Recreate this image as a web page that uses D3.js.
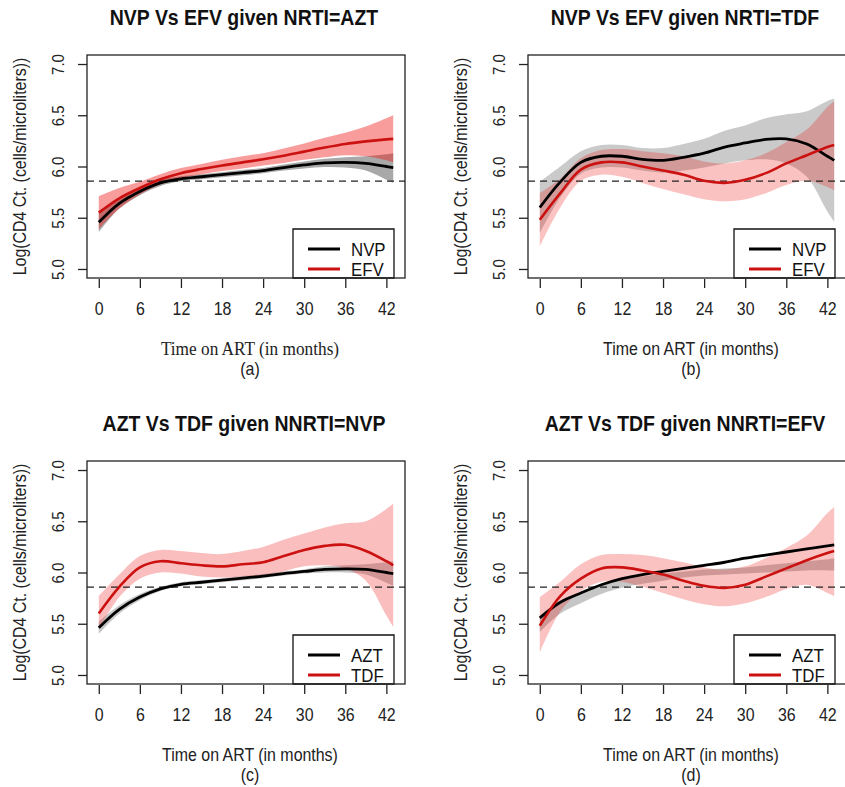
<!DOCTYPE html>
<html>
<head>
<meta charset="utf-8">
<script src="https://cdn.jsdelivr.net/npm/d3@7"></script>
<style>
  html, body { margin: 0; padding: 0; background: #fff; }
  svg { display: block; font-family: "Liberation Sans", Arial, sans-serif; }
</style>
</head>
<body>
<svg id="chart" width="845" height="787"></svg>
<script>
// ---------------- data ----------------
const months = [0, 3, 6, 9, 12, 15, 18, 21, 24, 27, 30, 33, 36, 39, 42, 43];
const xTicks = [0, 6, 12, 18, 24, 30, 36, 42];
const yTicks = [5.0, 5.5, 6.0, 6.5, 7.0];
const refLine = 5.858;

const titles = ["NVP Vs EFV given NRTI=AZT", "NVP Vs EFV given NRTI=TDF",
                "AZT Vs TDF given NNRTI=NVP", "AZT Vs TDF given NNRTI=EFV"];
const captions = ["(a)", "(b)", "(c)", "(d)"];
const legendLabels = [["NVP", "EFV"], ["NVP", "EFV"], ["AZT", "TDF"], ["AZT", "TDF"]];
const xLabel = "Time on ART (in months)";
const yLabel = "Log(CD4 Ct. (cells/microliters))";

// panel (a): NVP (black) vs EFV (red), NRTI = AZT
const aBlackMean  = [5.455, 5.64, 5.757, 5.84, 5.88, 5.90, 5.92, 5.94, 5.96, 5.99, 6.015, 6.035, 6.04, 6.03, 6.00, 5.99];
const aBlackLower = [5.36, 5.59, 5.72, 5.81, 5.855, 5.875, 5.895, 5.915, 5.935, 5.96, 5.98, 5.995, 5.99, 5.96, 5.87, 5.84];
const aBlackUpper = [5.55, 5.69, 5.79, 5.87, 5.905, 5.925, 5.945, 5.965, 5.985, 6.02, 6.05, 6.075, 6.09, 6.10, 6.12, 6.13];
const aRedMean    = [5.55, 5.69, 5.79, 5.875, 5.935, 5.975, 6.01, 6.04, 6.07, 6.105, 6.145, 6.185, 6.22, 6.245, 6.265, 6.27];
const aRedLower   = [5.39, 5.59, 5.73, 5.825, 5.885, 5.925, 5.955, 5.98, 6.01, 6.035, 6.065, 6.09, 6.11, 6.10, 6.06, 6.04];
const aRedUpper   = [5.71, 5.79, 5.85, 5.925, 5.985, 6.025, 6.065, 6.10, 6.13, 6.175, 6.225, 6.28, 6.33, 6.39, 6.47, 6.50];

// panel (b): NVP (black) vs EFV (red), NRTI = TDF
const bBlackMean  = [5.60, 5.85, 6.04, 6.10, 6.10, 6.07, 6.06, 6.09, 6.13, 6.19, 6.23, 6.265, 6.27, 6.22, 6.10, 6.06];
const bBlackLower = [5.35, 5.70, 5.93, 5.99, 5.99, 5.96, 5.94, 5.96, 5.99, 6.03, 6.06, 6.07, 6.03, 5.90, 5.56, 5.46];
const bBlackUpper = [5.85, 6.00, 6.15, 6.21, 6.21, 6.18, 6.18, 6.22, 6.27, 6.35, 6.40, 6.47, 6.51, 6.54, 6.64, 6.66];
const bRedMean    = [5.48, 5.74, 5.97, 6.04, 6.04, 6.00, 5.96, 5.92, 5.86, 5.84, 5.87, 5.935, 6.03, 6.11, 6.19, 6.21];
const bRedLower   = [5.22, 5.60, 5.86, 5.92, 5.90, 5.84, 5.78, 5.73, 5.68, 5.66, 5.68, 5.74, 5.82, 5.86, 5.80, 5.77];
const bRedUpper   = [5.74, 5.88, 6.08, 6.16, 6.17, 6.15, 6.13, 6.10, 6.05, 6.03, 6.06, 6.13, 6.24, 6.36, 6.58, 6.64];

// panel (c): AZT (black) vs TDF (red), NNRTI = NVP
const cBlackMean  = [5.46, 5.64, 5.76, 5.84, 5.885, 5.905, 5.925, 5.945, 5.965, 5.99, 6.01, 6.03, 6.035, 6.03, 6.00, 5.99];
const cBlackLower = [5.40, 5.60, 5.73, 5.82, 5.865, 5.885, 5.905, 5.925, 5.945, 5.97, 5.99, 6.00, 6.00, 5.98, 5.90, 5.87];
const cBlackUpper = [5.52, 5.68, 5.79, 5.86, 5.905, 5.925, 5.945, 5.965, 5.985, 6.01, 6.03, 6.06, 6.07, 6.08, 6.10, 6.11];
const cRedMean    = [5.60, 5.86, 6.05, 6.11, 6.09, 6.07, 6.06, 6.08, 6.10, 6.16, 6.22, 6.26, 6.27, 6.21, 6.11, 6.07];
const cRedLower   = [5.45, 5.76, 5.94, 6.00, 5.99, 5.96, 5.95, 5.96, 5.97, 6.01, 6.06, 6.07, 6.04, 5.92, 5.58, 5.47];
const cRedUpper   = [5.77, 5.98, 6.16, 6.22, 6.21, 6.19, 6.18, 6.21, 6.25, 6.32, 6.38, 6.44, 6.48, 6.50, 6.62, 6.67];

// panel (d): AZT (black) vs TDF (red), NNRTI = EFV
const dBlackMean  = [5.557, 5.71, 5.80, 5.88, 5.94, 5.98, 6.01, 6.04, 6.07, 6.10, 6.14, 6.17, 6.20, 6.23, 6.26, 6.27];
const dBlackLower = [5.42, 5.60, 5.70, 5.79, 5.85, 5.89, 5.92, 5.95, 5.97, 5.98, 5.99, 6.00, 6.01, 6.02, 6.02, 6.02];
const dBlackUpper = [5.56, 5.70, 5.80, 5.88, 5.93, 5.96, 5.99, 6.01, 6.03, 6.04, 6.05, 6.07, 6.09, 6.11, 6.13, 6.14];
const dRedMean    = [5.48, 5.77, 5.94, 6.04, 6.05, 6.02, 5.98, 5.92, 5.87, 5.85, 5.88, 5.96, 6.04, 6.12, 6.19, 6.21];
const dRedLower   = [5.22, 5.62, 5.82, 5.91, 5.91, 5.86, 5.80, 5.74, 5.69, 5.67, 5.70, 5.76, 5.84, 5.88, 5.80, 5.77];
const dRedUpper   = [5.76, 5.91, 6.08, 6.17, 6.18, 6.17, 6.14, 6.10, 6.05, 6.03, 6.06, 6.14, 6.24, 6.36, 6.58, 6.64];

// ---------------- layout ----------------
const panels = [
  { x0: 87,  y0: 55,  black: [aBlackMean, aBlackLower, aBlackUpper], red: [aRedMean, aRedLower, aRedUpper], greyFill: "rgba(110,110,110,0.6)", redFill: "rgba(240,20,20,0.42)", serifX: true },
  { x0: 528, y0: 55,  black: [bBlackMean, bBlackLower, bBlackUpper], red: [bRedMean, bRedLower, bRedUpper], greyFill: "rgba(128,128,128,0.42)", redFill: "rgba(240,20,20,0.26)", serifX: false },
  { x0: 87,  y0: 461, black: [cBlackMean, cBlackLower, cBlackUpper], red: [cRedMean, cRedLower, cRedUpper], greyFill: "rgba(128,128,128,0.45)", redFill: "rgba(240,20,20,0.28)", serifX: false },
  { x0: 528, y0: 461, black: [dBlackMean, dBlackLower, dBlackUpper], red: [dRedMean, dRedLower, dRedUpper], greyFill: "rgba(128,128,128,0.45)", redFill: "rgba(240,20,20,0.26)", serifX: false }
];
const W = 318, H = 223;
const redLine = "#cc1111";
const SX = 0.885;  // glyphs in the reference are narrower than Arial

const svg = d3.select("#chart");

function place(sel, x, y, rot) {
  sel.attr("x", null).attr("y", null)
    .attr("transform", `translate(${x},${y})${rot ? ` rotate(${rot})` : ""} scale(${SX},1)`);
  return sel;
}

panels.forEach((p, i) => {
  const g = svg.append("g");
  const x = d3.scaleLinear().domain([-1.72, 44.72]).range([p.x0, p.x0 + W]);
  const y = d3.scaleLinear().domain([4.912, 7.088]).range([p.y0 + H, p.y0]);
  const bottom = p.y0 + H;
  const curve = d3.curveCatmullRom.alpha(0.5);

  const band = (lo, hi) => d3.area()
    .x((d, k) => x(months[k]))
    .y0((d, k) => y(lo[k]))
    .y1((d, k) => y(hi[k]))
    .curve(curve)(months);
  const line = (m) => d3.line()
    .x((d, k) => x(months[k]))
    .y((d, k) => y(m[k]))
    .curve(curve)(months);

  // bands
  g.append("path").attr("d", band(p.black[1], p.black[2])).attr("fill", p.greyFill);
  g.append("path").attr("d", band(p.red[1], p.red[2])).attr("fill", p.redFill);

  // reference dashed line
  g.append("line")
    .attr("x1", p.x0).attr("x2", p.x0 + W)
    .attr("y1", y(refLine)).attr("y2", y(refLine))
    .attr("stroke", "#222").attr("stroke-width", 1.2)
    .attr("stroke-dasharray", "7,5");

  // mean lines
  g.append("path").attr("d", line(p.black[0])).attr("fill", "none")
    .attr("stroke", "#000").attr("stroke-width", 2.8);
  g.append("path").attr("d", line(p.red[0])).attr("fill", "none")
    .attr("stroke", redLine).attr("stroke-width", 2.6);

  // legend (bottom right, cut by the plot frame)
  const lx = p.x0 + 206, lr = p.x0 + 307, lt = bottom - 49;
  g.append("path")
    .attr("d", `M${lx},${bottom} L${lx},${lt} L${lr},${lt} L${lr},${bottom} Z`)
    .attr("fill", "#fff").attr("stroke", "#111").attr("stroke-width", 1.3);
  [["#000", bottom - 29], [redLine, bottom - 9]].forEach(([c, ly], k) => {
    g.append("line").attr("x1", p.x0 + 221).attr("x2", p.x0 + 253)
      .attr("y1", ly).attr("y2", ly).attr("stroke", c).attr("stroke-width", 3);
    place(g.append("text").attr("font-size", 19).attr("fill", "#111").text(legendLabels[i][k]),
      p.x0 + 264, ly + 7);
  });

  // frame
  g.append("rect").attr("x", p.x0).attr("y", p.y0).attr("width", W).attr("height", H)
    .attr("fill", "none").attr("stroke", "#222").attr("stroke-width", 1.3);

  // x axis
  const xa = g.append("g").attr("transform", `translate(0,${bottom + 1})`)
    .call(d3.axisBottom(x).tickValues(xTicks).tickSize(9).tickFormat(d3.format("d")));
  xa.select(".domain").remove();
  xa.selectAll("line").attr("stroke", "#222").attr("stroke-width", 1.3);
  xa.selectAll("text")
    .attr("dy", null)
    .attr("font-size", 18).attr("fill", "#222")
    .attr("font-family", "'Liberation Sans', Arial, sans-serif")
    .each(function () { place(d3.select(this), 0, 35.5); });

  // y axis
  const ya = g.append("g").attr("transform", `translate(${p.x0},0)`)
    .call(d3.axisLeft(y).tickValues(yTicks).tickSize(9).tickFormat(d3.format(".1f")));
  ya.select(".domain").remove();
  ya.selectAll("line").attr("stroke", "#222").attr("stroke-width", 1.3);
  ya.selectAll("text")
    .attr("dy", "0.36em")
    .attr("text-anchor", "middle")
    .attr("font-size", 17).attr("fill", "#222")
    .attr("font-family", "'Liberation Sans', Arial, sans-serif")
    .each(function () { place(d3.select(this), -29, 0, -90); });

  // title
  place(g.append("text")
    .attr("text-anchor", "middle").attr("font-size", 22).attr("font-weight", "bold")
    .attr("fill", "#111").text(titles[i]), p.x0 + W / 2 - 2, p.y0 - 30);

  // y label
  place(g.append("text")
    .attr("text-anchor", "middle").attr("dy", "0.36em")
    .attr("font-size", 18).attr("fill", "#222").text(yLabel), p.x0 - 67, p.y0 + H / 2, -90);

  // x label + caption
  place(g.append("text")
    .attr("text-anchor", "middle")
    .attr("font-size", p.serifX ? 19.5 : 18)
    .attr("font-family", p.serifX ? "'Liberation Serif', 'Times New Roman', serif" : null)
    .attr("fill", "#222").text(xLabel), p.x0 + W / 2 + 4, bottom + 76.5);
  place(g.append("text")
    .attr("text-anchor", "middle").attr("font-size", 18)
    .attr("fill", "#222").text(captions[i]), p.x0 + W / 2 + 4, bottom + 96.5);
});
</script>
</body>
</html>
